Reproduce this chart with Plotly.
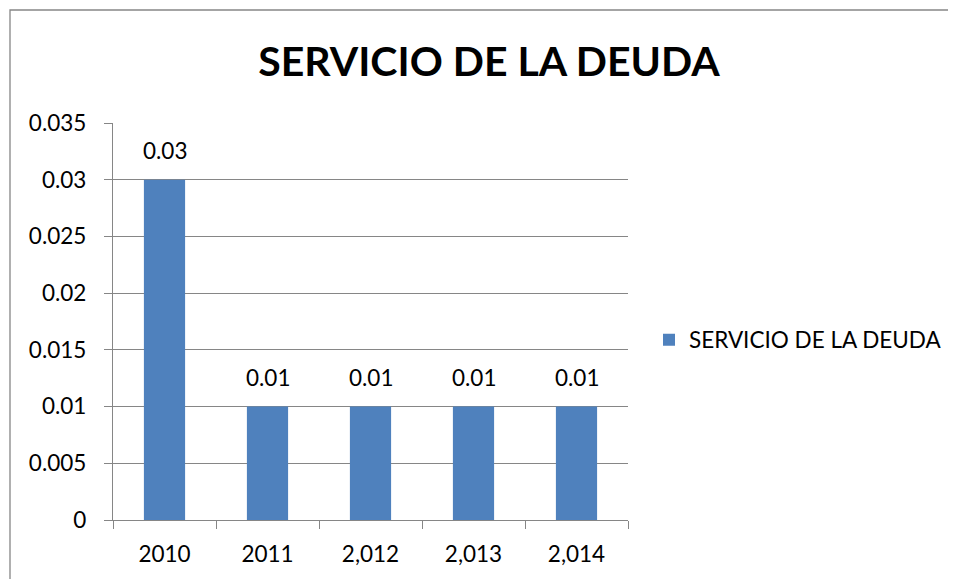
import plotly.graph_objects as go

categories = ["2010", "2011", "2,012", "2,013", "2,014"]
values = [0.03, 0.01, 0.01, 0.01, 0.01]
value_labels = ["0.03", "0.01", "0.01", "0.01", "0.01"]
series_name = "SERVICIO DE LA DEUDA"
title_text = "SERVICIO DE LA DEUDA"

FONT = "Lato, Open Sans, sans-serif"
GRAY = "#868686"
BAR = "#4F81BD"
FS = 22.5

# page has an 8px body margin; layout numbers below compensate for it
W, H = 948, 571
L, T, R, B = 105, 115, 328, 59
PW, PH = W - L - R, H - T - B

fig = go.Figure()
fig.add_trace(go.Bar(
    x=categories, y=values, name=series_name,
    marker=dict(color=BAR, line=dict(width=0)),
    width=0.4, showlegend=True,
))

for i, (v, t) in enumerate(zip(values, value_labels)):
    fig.add_annotation(x=i, y=v, text=t, showarrow=False, xref="x", yref="y",
                       yanchor="bottom", yshift=14,
                       font=dict(family=FONT, size=FS, color="#000000"))

fig.add_shape(type="rect", xref="paper", yref="paper",
              x0=(2 - L) / PW, x1=3, y0=-2, y1=(H - B - 2) / PH,
              line=dict(color=GRAY, width=1.3), fillcolor="rgba(0,0,0,0)", layer="below")

fig.update_layout(
    width=W, height=H,
    margin=dict(l=L, r=R, t=T, b=B, pad=0, autoexpand=False),
    paper_bgcolor="white", plot_bgcolor="white",
    font=dict(family=FONT, size=FS, color="#000000"),
    title=dict(text="<b>" + title_text + "</b>", xref="paper", x=(481 - L) / PW, xanchor="center",
               yref="container", y=1 - 54 / H, yanchor="middle",
               font=dict(family=FONT, size=41, color="#000000")),
    legend=dict(x=(641 - L) / PW, xanchor="left", y=(H - B - 332) / PH, yanchor="middle",
                font=dict(family=FONT, size=FS), bgcolor="rgba(0,0,0,0)",
                itemwidth=30, tracegroupgap=0),
    bargap=0.6,
)
fig.update_xaxes(
    type="category", showline=True, linecolor=GRAY, linewidth=1.3,
    ticks="outside", tickson="boundaries", ticklen=8, tickcolor=GRAY, tickwidth=1.3,
    showgrid=False, ticklabelstandoff=14, tickangle=0, automargin=False,
    tickfont=dict(family=FONT, size=FS),
)
fig.update_yaxes(
    range=[0, 0.035], dtick=0.005, tick0=0, showline=True, linecolor=GRAY, linewidth=1.3,
    ticks="outside", ticklen=8, tickcolor=GRAY, tickwidth=1.3,
    showgrid=True, gridcolor=GRAY, gridwidth=1.3, zeroline=False, automargin=False,
    ticklabelstandoff=13, tickfont=dict(family=FONT, size=FS),
)

fig.write_html("out.html")
